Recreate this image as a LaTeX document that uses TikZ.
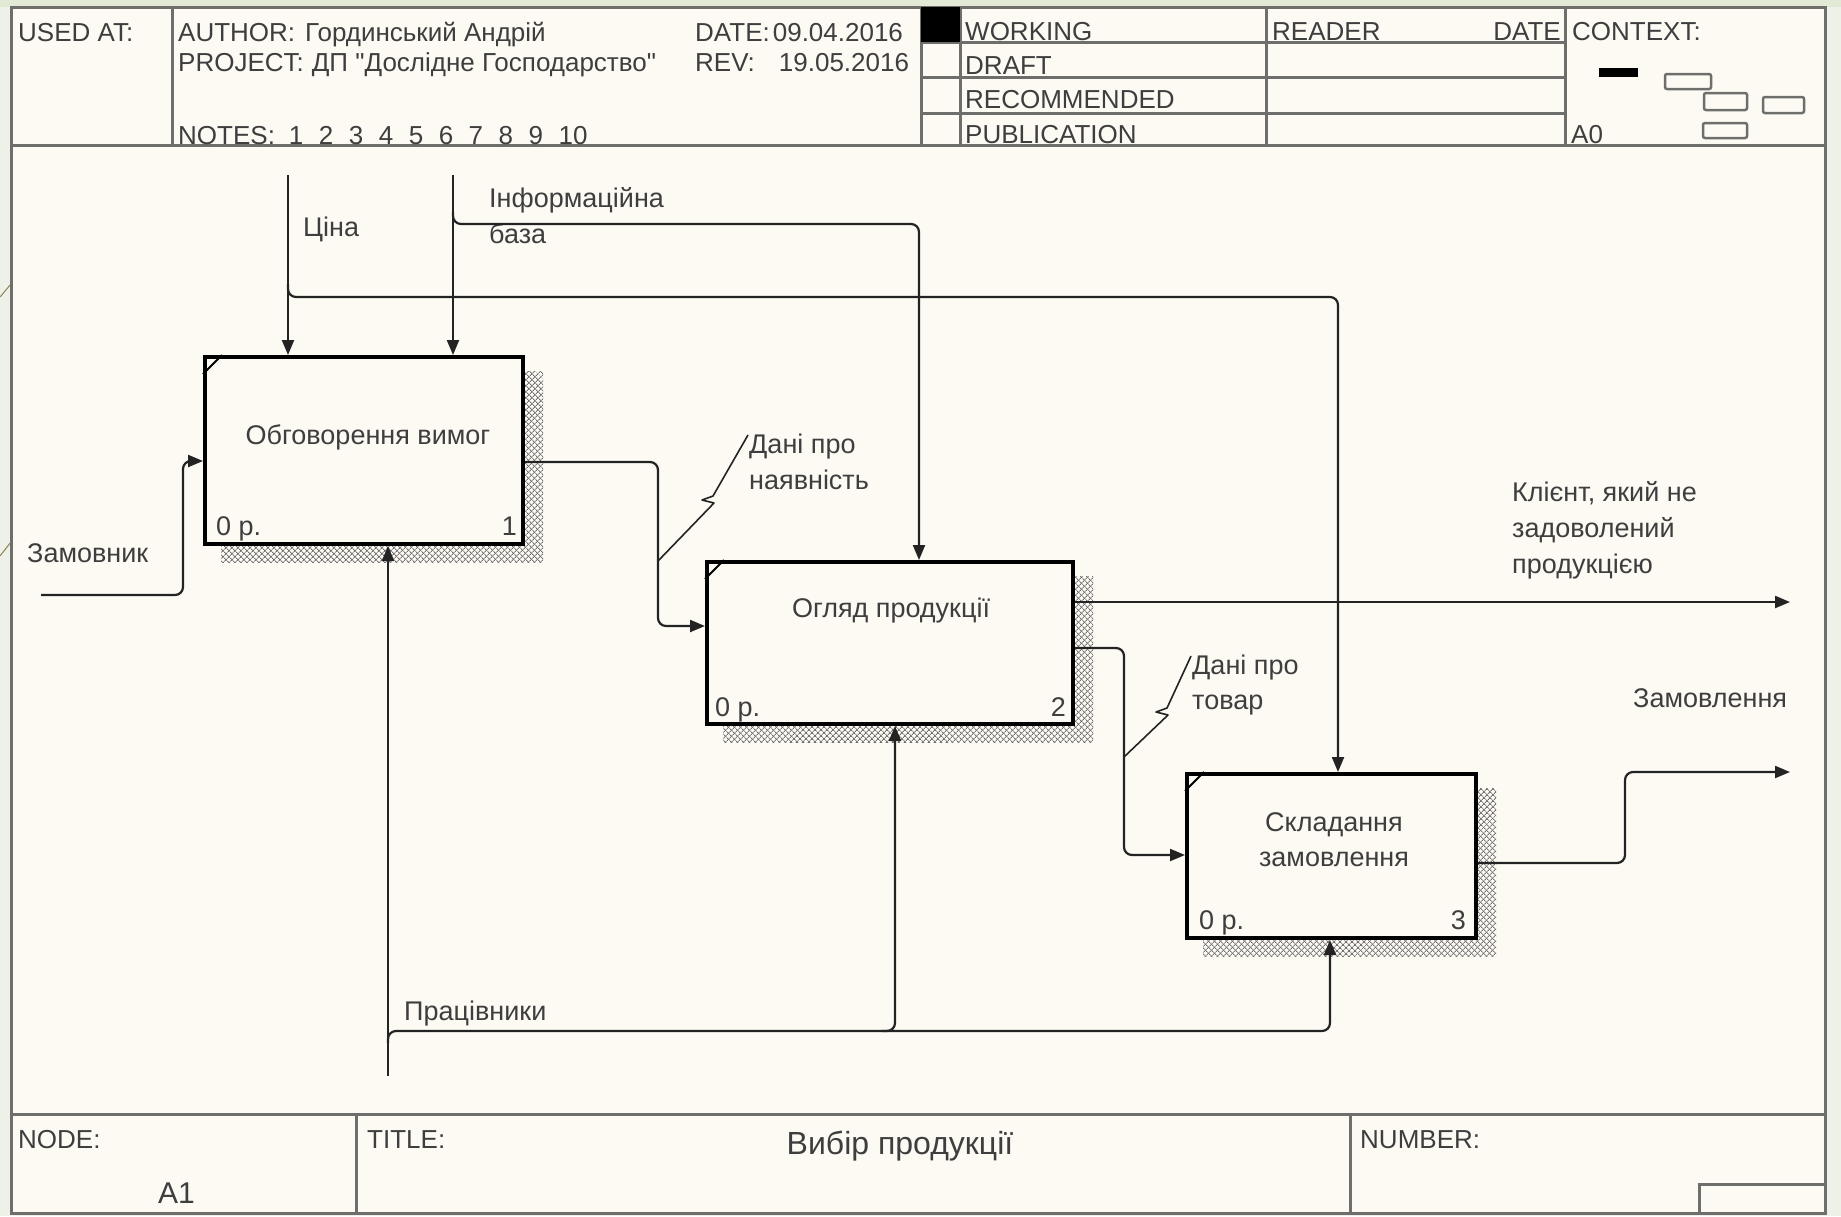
\documentclass[tikz,border=0pt]{standalone}
\usepackage{fontspec}
\setmainfont{Liberation Sans}[Ligatures=TeXOff]
\usetikzlibrary{arrows.meta,patterns.meta,calc}
\definecolor{bgout}{RGB}{238,241,231}
\definecolor{bgtop}{RGB}{226,233,212}
\definecolor{paper}{RGB}{253,250,244}
\definecolor{frm}{RGB}{110,110,108}
\definecolor{ink}{RGB}{35,35,35}
\definecolor{txt}{RGB}{62,62,62}
\definecolor{deco}{RGB}{140,130,90}
\pgfdeclarelayer{bgl}
\pgfdeclarelayer{shl}
\pgfsetlayers{bgl,shl,main}
\begin{document}
\begin{tikzpicture}[x=1pt,y=-1pt,
 frame/.style={draw=frm, line width=3pt},
 hdr/.style={font=\fontsize{26}{30}\selectfont, text=txt, inner sep=0pt, anchor=base west},
 lbl/.style={font=\fontsize{27}{32}\selectfont, text=txt, inner sep=0pt, anchor=base west},
 box/.style={draw=black, line width=4pt, fill=paper, inner sep=0pt, rectangle},
 con/.style={draw=ink, line width=2.2pt, rounded corners=8pt},
 arr/.style={con, -{Triangle[length=15pt,width=12pt]}},
 sq/.style={draw=ink, line width=1.6pt, line join=round},
 hatcha/.style={pattern={Lines[angle=45,distance=4pt,line width=1pt]}, pattern color=black!55},
 hatchb/.style={pattern={Lines[angle=-45,distance=4pt,line width=1pt]}, pattern color=black!55},
 mini/.style={draw=frm, line width=2.5pt, rounded corners=2pt}]
\useasboundingbox (0,0) rectangle (1841,1216);
\begin{pgfonlayer}{bgl}
 \fill[bgout] (0,0) rectangle (1841,1216);
 \fill[bgtop] (0,0) rectangle (1841,7);
 \fill[paper] (11,7) rectangle (1825,1213);
\end{pgfonlayer}
\draw[deco, line width=1pt] (0,297) -- (11,284);
\draw[deco, line width=1pt] (0,556) -- (11,542);

% ---- form frame ----
\draw[frame] (11,7) rectangle (1825,1213);
\draw[frame] (11,145) -- (1825,145);
\draw[frame] (11,1114) -- (1825,1114);
\draw[frame] (172,7) -- (172,145);
\foreach \x in {921,960,1266,1565} \draw[frame] (\x,7) -- (\x,145);
\foreach \y in {42,77,113} \draw[frame] (921,\y) -- (1565,\y);
\fill[black] (921,7) rectangle (960,42);
\draw[frame] (356,1114) -- (356,1213);
\draw[frame] (1350,1114) -- (1350,1213);
\draw[frame] (1699,1213) |- (1825,1184);
% context mini map
\fill[black] (1599,68) rectangle (1638,77);
\draw[mini] (1665,74) rectangle (1711,89);
\draw[mini] (1704,93) rectangle (1747,110);
\draw[mini] (1763,97) rectangle (1804,113);
\draw[mini] (1703,123) rectangle (1747,138);

% ---- header texts ----
\node[hdr] (usedat) at (18,41) {USED AT:};
\node[hdr] (author) at (178,41) {AUTHOR:\hspace{10pt}Гординський Андрій};
\node[hdr] (project) at (178,71) {PROJECT:\hspace{8pt}ДП "Дослідне Господарство"};
\node[hdr] (date) at (695,41) {DATE:\hspace{3pt}09.04.2016};
\node[hdr] (rev) at (695,71) {REV:\hspace{24pt}19.05.2016};
\node[hdr] (notes) at (178,144) {NOTES:\hspace{14pt}1\hspace{15.5pt}2\hspace{15.5pt}3\hspace{15.5pt}4\hspace{15.5pt}5\hspace{15.5pt}6\hspace{15.5pt}7\hspace{15.5pt}8\hspace{15.5pt}9\hspace{15.5pt}10};
\node[hdr] (working) at (965,40) {WORKING};
\node[hdr] (draft) at (965,74) {DRAFT};
\node[hdr] (recom) at (965,108) {RECOMMENDED};
\node[hdr] (publ) at (965,143) {PUBLICATION};
\node[hdr] (reader) at (1272,40) {READER};
\node[hdr, anchor=base east] (rdate) at (1561,40) {DATE};
\node[hdr] (context) at (1572,40) {CONTEXT:};
\node[hdr] (a0) at (1571,143) {A0};

% ---- footer texts ----
\node[hdr] (nodelbl) at (18,1148) {NODE:};
\node[hdr, font=\fontsize{30}{34}\selectfont] (a1) at (158,1203) {A1};
\node[hdr] (titlelbl) at (367,1148) {TITLE:};
\node[hdr, anchor=base, font=\fontsize{32}{36}\selectfont] (title) at (900,1154) {Вибір продукції};
\node[hdr] (numlbl) at (1360,1148) {NUMBER:};

% ---- activity boxes ----
\node[box, minimum width=318pt, minimum height=187pt] (b1) at (364,450.5) {};
\node[box, minimum width=366pt, minimum height=162pt] (b2) at (890,643) {};
\node[box, minimum width=289pt, minimum height=164pt] (b3) at (1331.5,856) {};
\begin{pgfonlayer}{shl}
\foreach \b in {b1,b2,b3} {
  \path[hatcha] ($(\b.north west)+(18,16)$) rectangle ($(\b.south east)+(18,16)$);
  \path[hatchb] ($(\b.north west)+(18,16)$) rectangle ($(\b.south east)+(18,16)$);
}
\end{pgfonlayer}
\foreach \b in {b1,b2,b3}
  \draw[black, line width=2pt] ($(\b.north west)+(0,19)$) -- ($(\b.north west)+(19,0)$);

\node[lbl, anchor=base] (t1) at (368,444) {Обговорення вимог};
\node[lbl, anchor=base] (t2) at (891,617) {Огляд продукції};
\node[lbl, anchor=base] (t3a) at (1334,831) {Складання};
\node[lbl, anchor=base] (t3b) at (1334,866) {замовлення};
\node[lbl] (n1a) at (216,535) {0 р.};
\node[lbl, anchor=base east] (n1b) at (517,535) {1};
\node[lbl] (n2a) at (715,716) {0 р.};
\node[lbl, anchor=base east] (n2b) at (1066,716) {2};
\node[lbl] (n3a) at (1199,929) {0 р.};
\node[lbl, anchor=base east] (n3b) at (1466,929) {3};

% ---- arrow labels ----
\node[lbl] (lcina) at (303,236) {Ціна};
\node[lbl] (linf1) at (489,207) {Інформаційна};
\node[lbl] (linf2) at (489,243) {база};
\node[lbl] (lzam) at (27,562) {Замовник};
\node[lbl] (lprac) at (404,1020) {Працівники};
\node[lbl] (lna1) at (749,453) {Дані про};
\node[lbl] (lna2) at (749,489) {наявність};
\node[lbl] (ltv1) at (1192,674) {Дані про};
\node[lbl] (ltv2) at (1192,709) {товар};
\node[lbl] (lkl1) at (1512,501) {Клієнт, який не};
\node[lbl] (lkl2) at (1512,537) {задоволений};
\node[lbl] (lkl3) at (1512,573) {продукцією};
\node[lbl] (lzv) at (1633,707) {Замовлення};

% ---- helper coordinates ----
\coordinate (cinaTop) at (288,175);
\coordinate (cinaBr) at (288,284);
\coordinate (infTop) at (453,175);
\coordinate (infBr) at (453,212);
\coordinate (yCina) at (0,297);
\coordinate (yInf) at (0,224);
\coordinate (x2) at (919,0);
\coordinate (x3) at (1338,0);
\coordinate (zamS) at (41,595);
\coordinate (xZam) at (183,0);
\coordinate (yZam) at (0,461);
\coordinate (yNa1) at (0,462);
\coordinate (xNa) at (658,0);
\coordinate (yNa2) at (0,626);
\coordinate (yTv1) at (0,648);
\coordinate (xTv) at (1124,0);
\coordinate (yTv2) at (0,855);
\coordinate (clEnd) at (1790,602);
\coordinate (yZv1) at (0,863);
\coordinate (xZv) at (1625,0);
\coordinate (zvEnd) at (1790,772);
\coordinate (pracBot) at (388,1076);
\coordinate (pracBr) at (388,1043);
\coordinate (yPr) at (0,1031);
\coordinate (xP2) at (895,0);
\coordinate (xP2s) at (882,0);
\coordinate (xP3) at (1330,0);

% ---- connectors ----
\draw[arr] (cinaTop) -- (cinaTop |- b1.north);
\draw[arr] (infTop) -- (infTop |- b1.north);
\draw[arr] (cinaBr) |- (x3 |- yCina) -- (x3 |- b3.north);
\draw[arr] (infBr) |- (x2 |- yInf) -- (x2 |- b2.north);
\draw[arr] (zamS) -| (xZam |- yZam) -- (b1.west |- yZam);
\draw[arr] (b1.east |- yNa1) -| (xNa |- yNa2) -- (b2.west |- yNa2);
\draw[arr] (b2.east |- yTv1) -| (xTv |- yTv2) -- (b3.west |- yTv2);
\draw[arr] (b2.east |- clEnd) -- (clEnd);
\draw[arr] (b3.east |- yZv1) -| (xZv |- zvEnd) -- (zvEnd);
\draw[arr] (pracBot) -- (pracBot |- b1.south);
\draw[arr] (pracBr) |- (xP3 |- yPr) -- (xP3 |- b3.south);
\draw[arr] (xP2s |- yPr) -| (xP2 |- b2.south);

% ---- squiggles ----
\draw[sq] (lna1.west) ++(-1,-11) -- (713,496) -- (702,500) -- (714,503) -- (xNa |- 0,561);
\draw[sq] (ltv1.west) ++(-1,-11) -- (1167,708) -- (1156,712) -- (1168,715) -- (xTv |- 0,757);
\end{tikzpicture}
\end{document}
